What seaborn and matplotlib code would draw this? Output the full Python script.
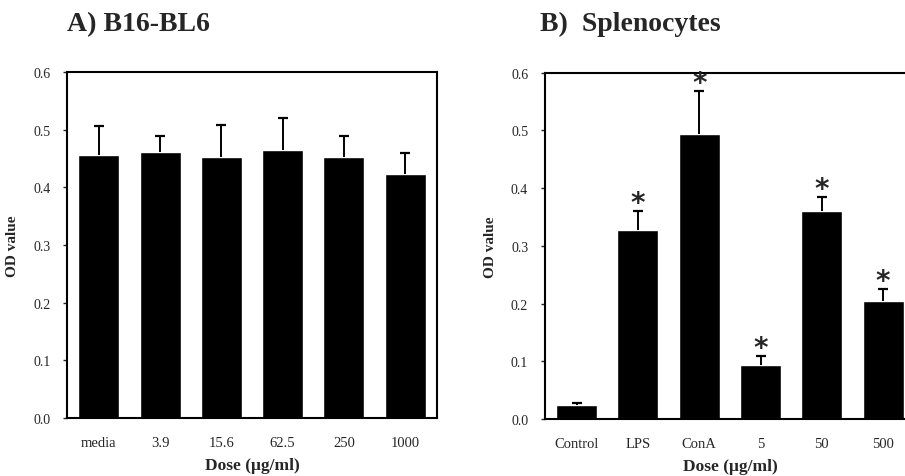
import pandas as pd
import seaborn as sns
import matplotlib.pyplot as plt

# A) B16-BL6
dose_a = ["media", "3.9", "15.6", "62.5", "250", "1000"]
od_a = [0.457, 0.461, 0.452, 0.465, 0.452, 0.423]
sd_a = [0.049, 0.029, 0.056, 0.055, 0.037, 0.036]

# B) Splenocytes
dose_b = ["Control", "LPS", "ConA", "5", "50", "500"]
od_b = [0.024, 0.328, 0.493, 0.094, 0.360, 0.204]
sd_b = [0.003, 0.033, 0.075, 0.016, 0.024, 0.021]
star_b = [False, True, True, True, True, True]

sns.set_style("white")
plt.rcParams["font.family"] = ["Liberation Serif", "DejaVu Serif"]

fig = plt.figure(figsize=(9.05, 4.77), dpi=100)
ax_a = fig.add_axes([0.074, 0.1216, 0.409, 0.725])
ax_b = fig.add_axes([0.602, 0.1195, 0.409, 0.726])


def draw_panel(ax, doses, vals, sds, stars=None):
    df = pd.DataFrame({"dose": doses, "od": vals})
    sns.barplot(data=df, x="dose", y="od", color="black", saturation=1,
                width=0.67, errorbar=None, ax=ax)
    x = range(len(doses))
    _, caps, _ = ax.errorbar(x, vals, yerr=[[0] * len(sds), sds], fmt="none",
                             ecolor="black", elinewidth=1.4, capsize=3.8,
                             capthick=1.6)
    caps[0].set_visible(False)  # only upper cap
    if stars is not None:
        for i, (v, s, st) in enumerate(zip(vals, sds, stars)):
            if st:
                ax.annotate("*", (i, v + s), xytext=(0, 0),
                            textcoords="offset points", ha="center",
                            va="baseline", fontsize=20, fontweight="bold",
                            family="DejaVu Sans")
    ax.set_xlim(-0.52, 5.52)
    ax.set_ylim(0, 0.6)
    ax.set_yticks([0.0, 0.1, 0.2, 0.3, 0.4, 0.5, 0.6])
    ax.set_yticklabels([f"{t:.1f}" for t in ax.get_yticks()])
    ax.tick_params(axis="y", length=3, width=1, direction="out",
                   labelsize=10, pad=9, left=True)
    ax.tick_params(axis="x", length=0, labelsize=10.5, pad=13)
    ax.set_xlabel("Dose (\u03bcg/ml)", fontsize=12.5, fontweight="bold",
                  labelpad=6)
    ax.set_ylabel("OD value", fontsize=11, fontweight="bold")
    ax.yaxis.set_label_coords(-0.13, 0.5)
    for sp in ax.spines.values():
        sp.set_visible(True)
        sp.set_color("black")
        sp.set_linewidth(1.5)


draw_panel(ax_a, dose_a, od_a, sd_a)
draw_panel(ax_b, dose_b, od_b, sd_b, star_b)

fig.text(0.074, 0.948, "A) B16-BL6", fontsize=20, fontweight="bold",
         ha="left", va="center")
fig.text(0.597, 0.948, "B)  Splenocytes", fontsize=20, fontweight="bold",
         ha="left", va="center")

plt.savefig("out.png", dpi=100)
plt.close()
